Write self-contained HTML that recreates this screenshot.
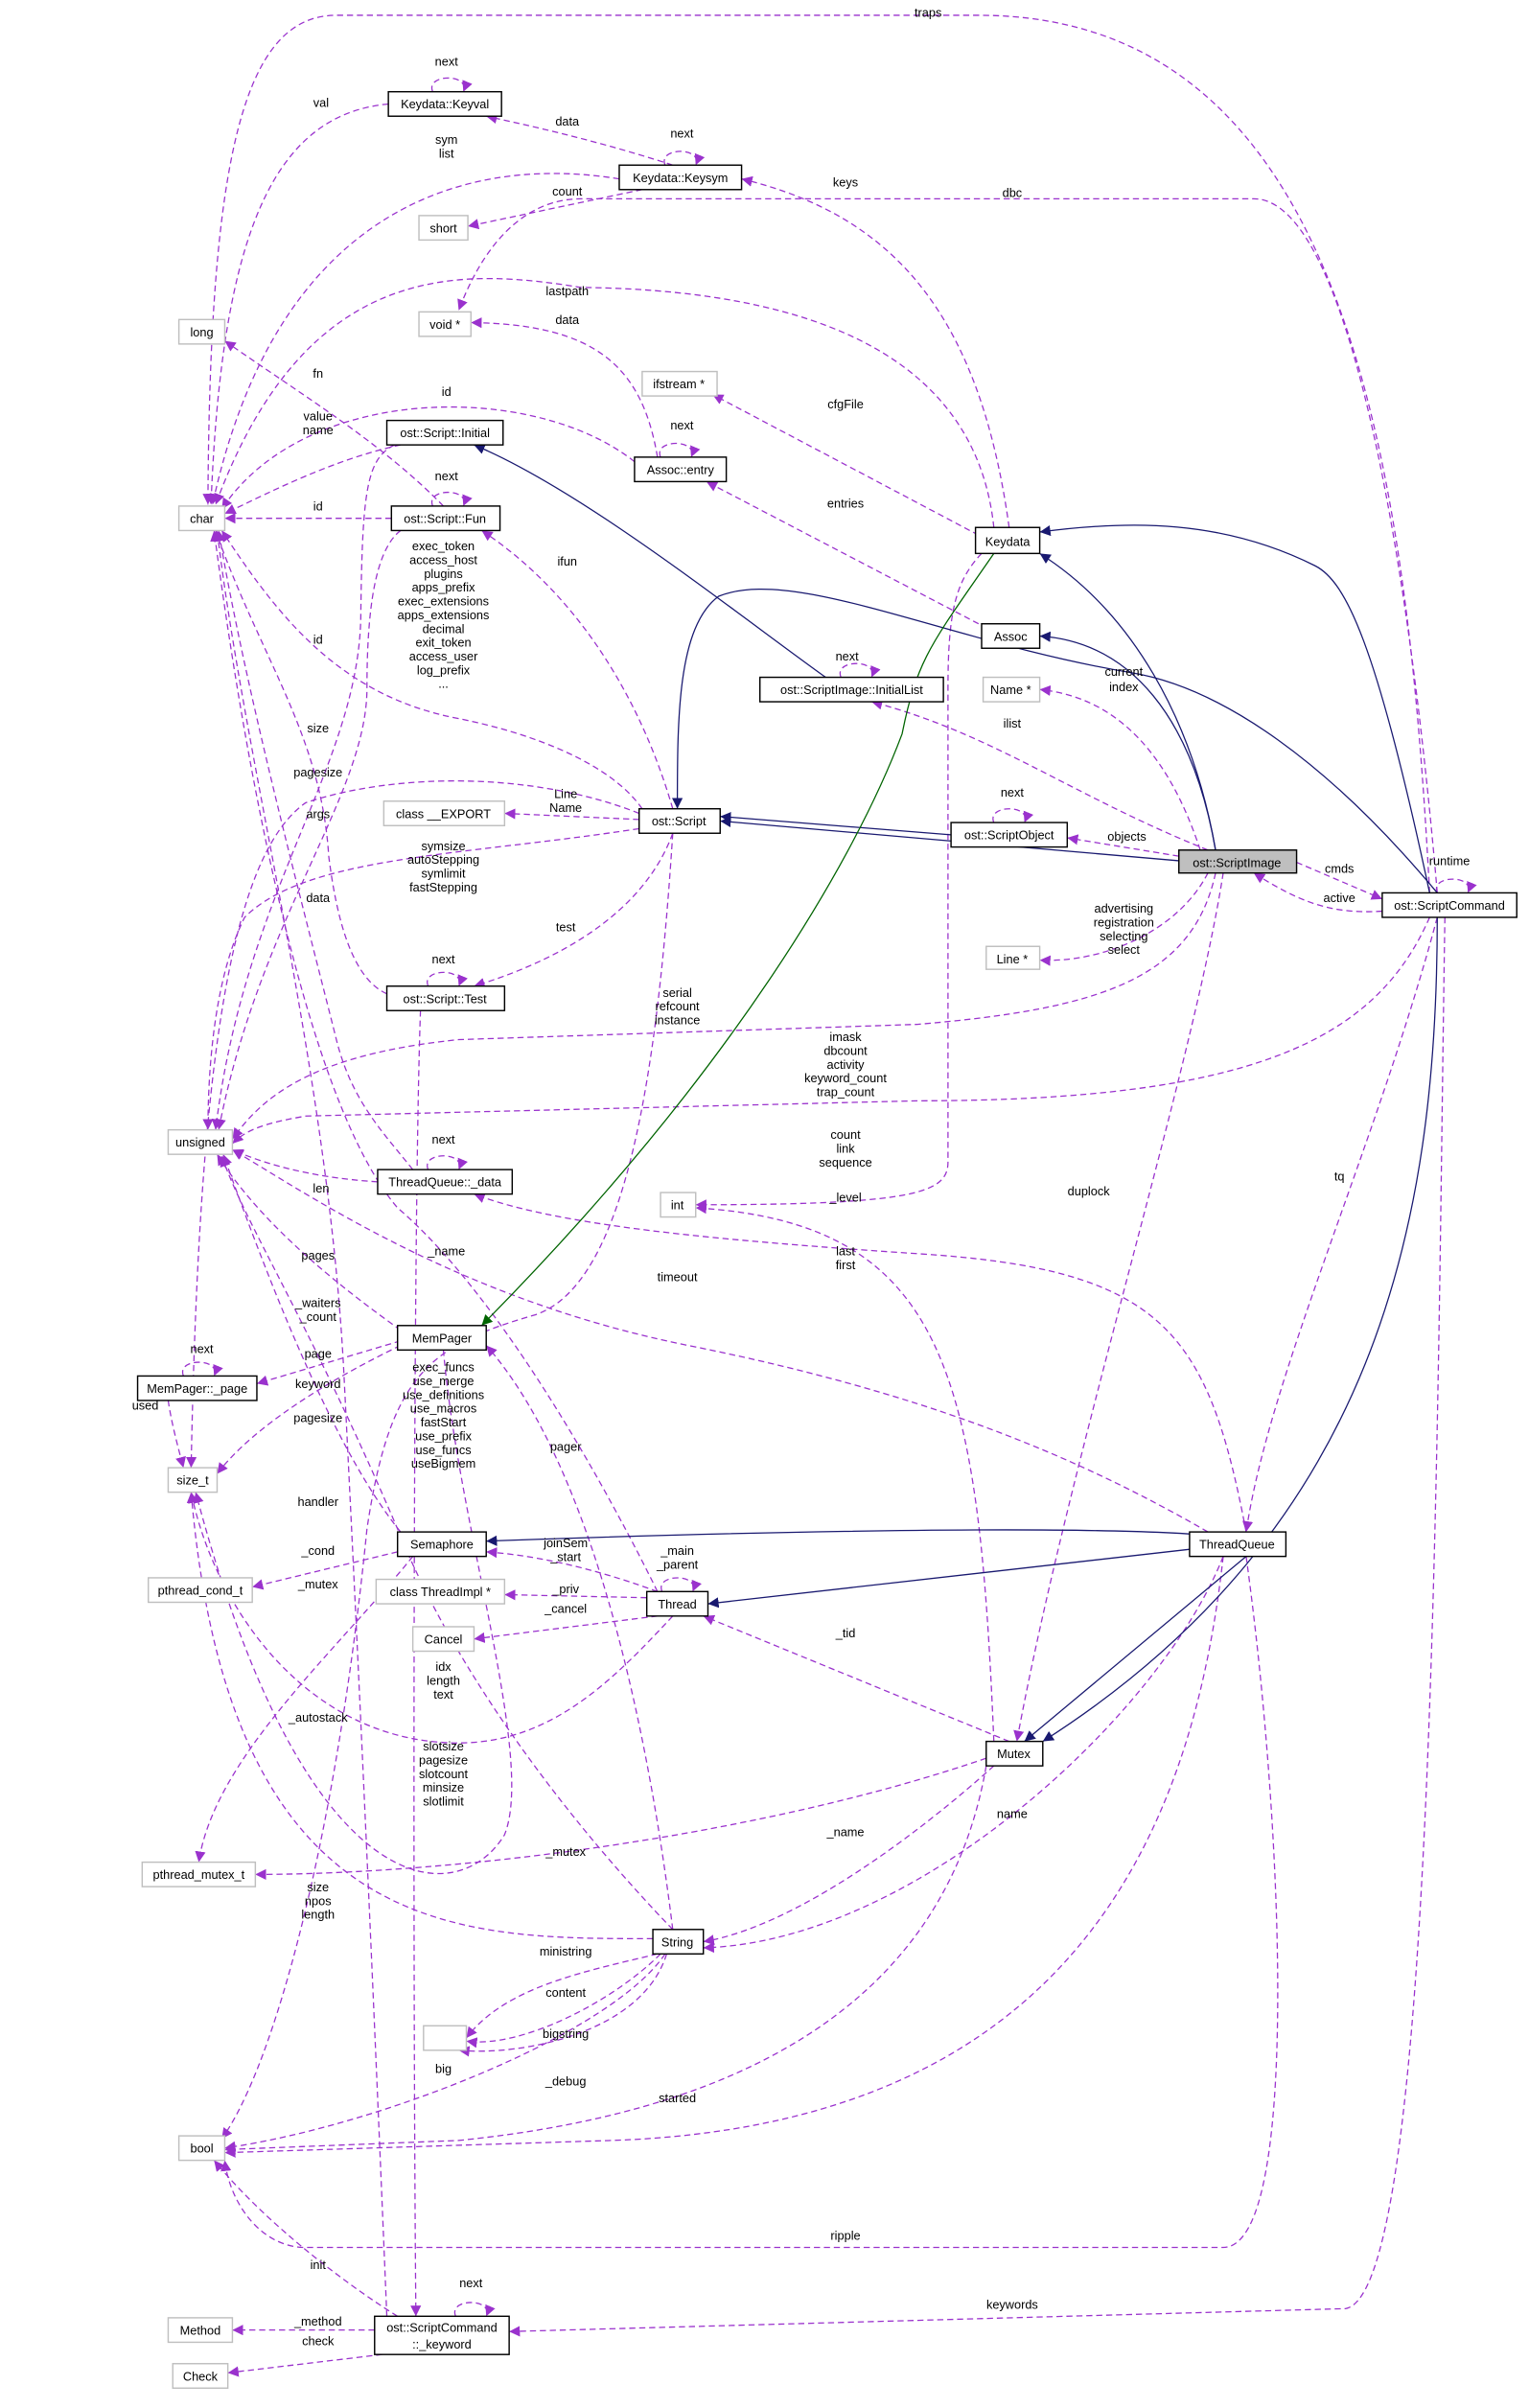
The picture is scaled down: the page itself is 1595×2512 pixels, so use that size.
<!DOCTYPE html>
<html><head><meta charset="utf-8"><style>
html,body{margin:0;padding:0;background:#fff;}
svg{display:block;}
text{font-family:"Liberation Sans",sans-serif;font-size:8px;fill:#000;}
.n{fill:#fff;stroke:#000;stroke-width:0.9;}
.g{fill:#fff;stroke:#bfbfbf;stroke-width:0.9;}
.p{fill:none;stroke:#9a32cd;stroke-width:0.8;stroke-dasharray:4,2.5;}
.b{fill:none;stroke:#191970;stroke-width:0.8;}
.gr{fill:none;stroke:#006400;stroke-width:0.8;}
</style></head><body>
<svg width="1595" height="2512" viewBox="0 0 1000 1575" preserveAspectRatio="none" xmlns="http://www.w3.org/2000/svg">
<defs>
<marker id="ap" viewBox="0 0 10 10" refX="10" refY="5" markerWidth="7" markerHeight="7" orient="auto" markerUnits="userSpaceOnUse"><path d="M0,0L10,5L0,10z" fill="#9a32cd"/></marker>
<marker id="ab" viewBox="0 0 10 10" refX="10" refY="5" markerWidth="7" markerHeight="7" orient="auto" markerUnits="userSpaceOnUse"><path d="M0,0L10,5L0,10z" fill="#191970"/></marker>
<marker id="ag" viewBox="0 0 10 10" refX="10" refY="5" markerWidth="7" markerHeight="7" orient="auto" markerUnits="userSpaceOnUse"><path d="M0,0L10,5L0,10z" fill="#006400"/></marker>
</defs>
<g marker-end="url(#ap)">
<path class="p" d="M935,584 C920,300 880,10 640,10 L220,10 C160,10 137,100 136,330"/>
<path class="p" d="M254,68 C180,75 145,150 138,330"/>
<path class="p" d="M440,108 C400,95 360,85 318,76"/>
<path class="p" d="M405,117 C300,100 180,140 139,330"/>
<path class="p" d="M420,124 L306,148"/>
<path class="p" d="M660,345 C640,200 580,140 485,117"/>
<path class="p" d="M940,584 C920,350 880,130 820,130 L380,130 C350,130 320,150 300,203"/>
<path class="p" d="M650,345 C640,250 560,190 380,188 C300,175 200,170 141,330"/>
<path class="p" d="M430,299 C420,240 390,212 308,211"/>
<path class="p" d="M640,350 L466,258"/>
<path class="p" d="M640,408 L462,315"/>
<path class="p" d="M415,302 C350,250 200,250 145,333"/>
<path class="p" d="M290,331 C250,290 200,260 147,223"/>
<path class="p" d="M262,291 C220,300 180,320 147,336"/>
<path class="p" d="M256,339 L147,339"/>
<path class="p" d="M420,529 C400,500 350,480 300,470 C220,455 180,400 145,347"/>
<path class="p" d="M440,529 C420,460 380,390 315,347"/>
<path class="p" d="M418,536 L330,532"/>
<path class="p" d="M440,545 C420,600 360,630 310,645"/>
<path class="p" d="M418,542 C300,560 200,560 160,600 C140,640 136,700 136,739"/>
<path class="p" d="M418,532 C350,505 260,505 200,525 C150,560 130,700 125,960"/>
<path class="p" d="M771,560 L698,548"/>
<path class="p" d="M785,556 C760,480 720,455 680,451"/>
<path class="p" d="M790,556 C700,520 650,480 570,459"/>
<path class="p" d="M848,564 L904,588"/>
<path class="p" d="M904,596 C870,598 850,590 820,571"/>
<path class="p" d="M790,571 C770,610 720,630 680,628"/>
<path class="p" d="M795,571 C780,640 720,660 600,670 L300,680 C200,690 170,720 152,745"/>
<path class="p" d="M935,600 C900,680 820,720 600,720 L200,730 C170,735 160,740 152,748"/>
<path class="p" d="M642,362 C625,380 620,400 620,450 L620,760 C620,780 600,788 455,788"/>
<path class="p" d="M800,571 C780,700 700,950 665,1139"/>
<path class="p" d="M940,600 C900,750 830,900 815,1002"/>
<path class="p" d="M247,773 C200,770 170,760 152,752"/>
<path class="p" d="M270,765 C250,740 230,720 220,680 C200,600 160,450 143,347"/>
<path class="p" d="M815,1002 C790,870 760,830 600,820 C450,810 360,800 310,781"/>
<path class="p" d="M790,1002 C700,950 600,910 450,880 C300,850 200,780 152,752"/>
<path class="p" d="M262,870 C220,840 170,800 142,755"/>
<path class="p" d="M430,1041 C400,980 330,850 260,790 C200,720 160,500 140,347"/>
<path class="p" d="M262,1002 C220,950 180,850 146,755"/>
<path class="p" d="M262,877 L168,905"/>
<path class="p" d="M110,916 C112,930 116,945 120,960"/>
<path class="p" d="M262,880 C200,910 160,940 142,964"/>
<path class="p" d="M260,1015 L165,1038"/>
<path class="p" d="M270,1018 C220,1080 140,1150 130,1218"/>
<path class="p" d="M430,1041 C400,1030 360,1018 318,1015"/>
<path class="p" d="M423,1045 L330,1043"/>
<path class="p" d="M430,1057 L310,1072"/>
<path class="p" d="M440,1057 C400,1100 360,1140 300,1140 C200,1140 140,1050 125,976"/>
<path class="p" d="M660,1139 L460,1057"/>
<path class="p" d="M650,1139 C640,900 620,800 455,790"/>
<path class="p" d="M440,1262 C380,1200 300,1100 260,1000 C200,860 160,800 145,756"/>
<path class="p" d="M645,1150 C500,1200 300,1226 167,1226"/>
<path class="p" d="M650,1155 C600,1200 520,1260 460,1270"/>
<path class="p" d="M800,1018 C760,1120 600,1270 460,1274"/>
<path class="p" d="M427,1268 C300,1268 150,1270 125,976"/>
<path class="p" d="M440,1262 C420,1100 380,950 318,880"/>
<path class="p" d="M430,1278 C380,1290 330,1300 305,1333"/>
<path class="p" d="M432,1278 C400,1310 340,1340 305,1335"/>
<path class="p" d="M436,1278 C420,1330 340,1345 300,1341"/>
<path class="p" d="M435,1278 C400,1330 250,1390 147,1405"/>
<path class="p" d="M645,1155 C620,1300 500,1380 300,1400 L147,1406"/>
<path class="p" d="M800,1018 C780,1200 700,1390 400,1400 L147,1408"/>
<path class="p" d="M815,1018 C840,1200 850,1470 800,1470 L200,1470 C170,1470 150,1440 147,1413"/>
<path class="p" d="M945,600 C940,900 940,1500 880,1510 L333,1525"/>
<path class="p" d="M260,1515 C220,1490 170,1450 140,1413"/>
<path class="p" d="M245,1524 L152,1524"/>
<path class="p" d="M250,1540 L149,1552"/>
<path class="p" d="M253,1515 C240,1200 230,1000 225,900 C215,700 160,500 142,347"/>
<path class="p" d="M253,650 C230,640 220,600 215,560 C210,480 170,430 141,347"/>
<path class="p" d="M258,291 C240,300 237,320 236,400 C236,500 160,580 141,739"/>
<path class="p" d="M262,347 C245,360 240,400 240,450 C240,520 170,600 143,739"/>
<path class="p" d="M275,661 C270,800 270,1300 272,1515"/>
<path class="p" d="M440,545 C430,700 410,840 350,860 C280,880 255,900 240,1000 C220,1200 180,1350 145,1399"/>
<path class="p" d="M290,883 C300,1000 350,1150 330,1200 C300,1250 200,1250 128,976"/>
<!-- self loops -->
<path class="p" d="M283,60 C278,48 308,48 303,60"/>
<path class="p" d="M435,108 C430,96 460,96 455,108"/>
<path class="p" d="M432,299 C427,287 457,287 452,299"/>
<path class="p" d="M283,331 C278,319 308,319 303,331"/>
<path class="p" d="M550,443 C545,431 575,431 570,443"/>
<path class="p" d="M650,538 C645,526 675,526 670,538"/>
<path class="p" d="M940,584 C935,572 965,572 960,584"/>
<path class="p" d="M280,645 C275,633 305,633 300,645"/>
<path class="p" d="M280,765 C275,753 305,753 300,765"/>
<path class="p" d="M120,900 C115,888 145,888 140,900"/>
<path class="p" d="M433,1041 C428,1029 458,1029 453,1041"/>
<path class="p" d="M298,1515 C293,1503 323,1503 318,1515"/>
</g>
<g marker-end="url(#ab)">
<path class="b" d="M540,443 C480,400 380,320 310,291"/>
<path class="b" d="M940,584 C870,500 800,450 740,440 C620,420 520,370 470,390 C443,410 443,470 443,529"/>
<path class="b" d="M795,556 C780,470 740,400 680,362"/>
<path class="b" d="M795,556 C780,470 740,420 680,416"/>
<path class="b" d="M935,584 C900,420 880,380 860,370 C800,340 740,340 680,348"/>
<path class="b" d="M771,563 L471,537"/>
<path class="b" d="M622,546 L471,534"/>
<path class="b" d="M800,1005 C700,995 400,1005 318,1008"/>
<path class="b" d="M790,1012 L463,1049"/>
<path class="b" d="M815,1018 L670,1139"/>
<path class="b" d="M940,600 C940,800 900,1000 682,1139"/>
</g>
<path class="gr" marker-end="url(#ag)" d="M650,362 C610,420 600,430 590,480 C560,560 480,700 315,867"/>
<!-- nodes -->
<g>
<rect class="n" x="254" y="60" width="74" height="16"/><text x="291" y="71" text-anchor="middle">Keydata::Keyval</text>
<rect class="n" x="405" y="108" width="80" height="16"/><text x="445" y="119" text-anchor="middle">Keydata::Keysym</text>
<rect class="g" x="274" y="141" width="32" height="16"/><text x="290" y="152" text-anchor="middle">short</text>
<rect class="g" x="274" y="204" width="34" height="16"/><text x="291" y="215" text-anchor="middle">void *</text>
<rect class="g" x="117" y="209" width="30" height="16"/><text x="132" y="220" text-anchor="middle">long</text>
<rect class="g" x="420" y="243" width="49" height="16"/><text x="444" y="254" text-anchor="middle">ifstream *</text>
<rect class="n" x="253" y="275" width="76" height="16"/><text x="291" y="286" text-anchor="middle">ost::Script::Initial</text>
<rect class="n" x="415" y="299" width="60" height="16"/><text x="445" y="310" text-anchor="middle">Assoc::entry</text>
<rect class="g" x="117" y="331" width="30" height="16"/><text x="132" y="342" text-anchor="middle">char</text>
<rect class="n" x="256" y="331" width="71" height="16"/><text x="291" y="342" text-anchor="middle">ost::Script::Fun</text>
<rect class="n" x="638" y="345" width="42" height="17"/><text x="659" y="357" text-anchor="middle">Keydata</text>
<rect class="n" x="642" y="408" width="38" height="16"/><text x="661" y="419" text-anchor="middle">Assoc</text>
<rect class="g" x="643" y="443" width="37" height="16"/><text x="661" y="454" text-anchor="middle">Name *</text>
<rect class="n" x="497" y="443" width="120" height="16"/><text x="557" y="454" text-anchor="middle">ost::ScriptImage::InitialList</text>
<rect class="g" x="251" y="524" width="79" height="16"/><text x="290" y="535" text-anchor="middle">class __EXPORT</text>
<rect class="n" x="418" y="529" width="53" height="16"/><text x="444" y="540" text-anchor="middle">ost::Script</text>
<rect class="n" x="622" y="538" width="76" height="16"/><text x="660" y="549" text-anchor="middle">ost::ScriptObject</text>
<rect x="771" y="556" width="77" height="15" fill="#bfbfbf" stroke="#000" stroke-width="0.9"/><text x="809" y="567" text-anchor="middle">ost::ScriptImage</text>
<rect class="n" x="904" y="584" width="88" height="16"/><text x="948" y="595" text-anchor="middle">ost::ScriptCommand</text>
<rect class="g" x="645" y="619" width="35" height="15"/><text x="662" y="630" text-anchor="middle">Line *</text>
<rect class="n" x="253" y="645" width="77" height="16"/><text x="291" y="656" text-anchor="middle">ost::Script::Test</text>
<rect class="g" x="110" y="739" width="42" height="16"/><text x="131" y="750" text-anchor="middle">unsigned</text>
<rect class="n" x="247" y="765" width="88" height="16"/><text x="291" y="776" text-anchor="middle">ThreadQueue::_data</text>
<rect class="g" x="432" y="780" width="23" height="16"/><text x="443" y="791" text-anchor="middle">int</text>
<rect class="n" x="260" y="867" width="58" height="16"/><text x="289" y="878" text-anchor="middle">MemPager</text>
<rect class="n" x="90" y="900" width="78" height="16"/><text x="129" y="911" text-anchor="middle">MemPager::_page</text>
<rect class="g" x="110" y="960" width="32" height="16"/><text x="126" y="971" text-anchor="middle">size_t</text>
<rect class="n" x="260" y="1002" width="58" height="16"/><text x="289" y="1013" text-anchor="middle">Semaphore</text>
<rect class="n" x="778" y="1002" width="63" height="16"/><text x="809" y="1013" text-anchor="middle">ThreadQueue</text>
<rect class="g" x="97" y="1032" width="68" height="16"/><text x="131" y="1043" text-anchor="middle">pthread_cond_t</text>
<rect class="g" x="246" y="1033" width="84" height="16"/><text x="288" y="1044" text-anchor="middle">class ThreadImpl *</text>
<rect class="n" x="423" y="1041" width="40" height="16"/><text x="443" y="1052" text-anchor="middle">Thread</text>
<rect class="g" x="270" y="1064" width="40" height="16"/><text x="290" y="1075" text-anchor="middle">Cancel</text>
<rect class="n" x="645" y="1139" width="37" height="16"/><text x="663" y="1150" text-anchor="middle">Mutex</text>
<rect class="g" x="93" y="1218" width="74" height="16"/><text x="130" y="1229" text-anchor="middle">pthread_mutex_t</text>
<rect class="n" x="427" y="1262" width="33" height="16"/><text x="443" y="1273" text-anchor="middle">String</text>
<rect class="g" x="277" y="1325" width="28" height="16"/>
<rect class="g" x="117" y="1397" width="30" height="16"/><text x="132" y="1408" text-anchor="middle">bool</text>
<rect class="g" x="110" y="1516" width="42" height="16"/><text x="131" y="1527" text-anchor="middle">Method</text>
<rect class="n" x="245" y="1515" width="88" height="25"/><text x="289" y="1525" text-anchor="middle">ost::ScriptCommand</text><text x="289" y="1536" text-anchor="middle">::_keyword</text>
<rect class="g" x="113" y="1546" width="36" height="16"/><text x="131" y="1557" text-anchor="middle">Check</text>
</g>
<!-- labels -->
<g text-anchor="middle">
<text x="607" y="11">traps</text>
<text x="292" y="43">next</text><text x="446" y="90">next</text>
<text x="210" y="70">val</text><text x="371" y="82">data</text>
<text x="292" y="94">sym</text><text x="292" y="103">list</text>
<text x="371" y="128">count</text><text x="553" y="122">keys</text>
<text x="662" y="129">dbc</text><text x="371" y="193">lastpath</text>
<text x="371" y="212">data</text><text x="553" y="267">cfgFile</text>
<text x="446" y="281">next</text><text x="553" y="332">entries</text>
<text x="208" y="247">fn</text><text x="292" y="259">id</text>
<text x="208" y="275">value</text><text x="208" y="284">name</text>
<text x="208" y="334">id</text><text x="292" y="314">next</text>
<text x="371" y="370">ifun</text>
<text x="290" y="360">exec_token</text><text x="290" y="369">access_host</text><text x="290" y="378">plugins</text><text x="290" y="387">apps_prefix</text><text x="290" y="396">exec_extensions</text><text x="290" y="405">apps_extensions</text><text x="290" y="414">decimal</text><text x="290" y="423">exit_token</text><text x="290" y="432">access_user</text><text x="290" y="441">log_prefix</text><text x="290" y="450">...</text>
<text x="208" y="421">id</text><text x="208" y="479">size</text><text x="208" y="508">pagesize</text><text x="208" y="535">args</text>
<text x="554" y="432">next</text><text x="735" y="442">current</text><text x="735" y="452">index</text>
<text x="662" y="476">ilist</text><text x="662" y="521">next</text>
<text x="370" y="522">Line</text><text x="370" y="531">Name</text>
<text x="737" y="550">objects</text><text x="876" y="571">cmds</text><text x="876" y="590">active</text><text x="948" y="566">runtime</text>
<text x="290" y="556">symsize</text><text x="290" y="565">autoStepping</text><text x="290" y="574">symlimit</text><text x="290" y="583">fastStepping</text>
<text x="735" y="597">advertising</text><text x="735" y="606">registration</text><text x="735" y="615">selecting</text><text x="735" y="624">select</text>
<text x="370" y="609">test</text><text x="290" y="630">next</text><text x="208" y="590">data</text>
<text x="443" y="652">serial</text><text x="443" y="661">refcount</text><text x="443" y="670">instance</text>
<text x="553" y="681">imask</text><text x="553" y="690">dbcount</text><text x="553" y="699">activity</text><text x="553" y="708">keyword_count</text><text x="553" y="717">trap_count</text>
<text x="290" y="748">next</text><text x="210" y="780">len</text>
<text x="553" y="745">count</text><text x="553" y="754">link</text><text x="553" y="763">sequence</text>
<text x="712" y="782">duplock</text><text x="876" y="772">tq</text><text x="553" y="786">_level</text>
<text x="553" y="821">last</text><text x="553" y="830">first</text>
<text x="292" y="821">_name</text><text x="443" y="838">timeout</text><text x="208" y="824">pages</text>
<text x="208" y="855">_waiters</text><text x="208" y="864">_count</text>
<text x="132" y="885">next</text><text x="208" y="888">page</text><text x="208" y="908">keyword</text><text x="208" y="930">pagesize</text><text x="95" y="922">used</text>
<text x="290" y="897">exec_funcs</text><text x="290" y="906">use_merge</text><text x="290" y="915">use_definitions</text><text x="290" y="924">use_macros</text><text x="290" y="933">fastStart</text><text x="290" y="942">use_prefix</text><text x="290" y="951">use_funcs</text><text x="290" y="960">useBigmem</text>
<text x="370" y="949">pager</text><text x="208" y="985">handler</text>
<text x="370" y="1012">joinSem</text><text x="370" y="1021">_start</text>
<text x="443" y="1017">_main</text><text x="443" y="1026">_parent</text>
<text x="208" y="1017">_cond</text><text x="208" y="1039">_mutex</text>
<text x="370" y="1042">_priv</text><text x="370" y="1055">_cancel</text><text x="553" y="1071">_tid</text>
<text x="290" y="1093">idx</text><text x="290" y="1102">length</text><text x="290" y="1111">text</text>
<text x="208" y="1126">_autostack</text>
<text x="290" y="1145">slotsize</text><text x="290" y="1154">pagesize</text><text x="290" y="1163">slotcount</text><text x="290" y="1172">minsize</text><text x="290" y="1181">slotlimit</text>
<text x="662" y="1189">name</text><text x="553" y="1201">_name</text><text x="370" y="1214">_mutex</text>
<text x="208" y="1237">size</text><text x="208" y="1246">npos</text><text x="208" y="1255">length</text>
<text x="370" y="1279">ministring</text><text x="370" y="1306">content</text><text x="370" y="1333">bigstring</text>
<text x="290" y="1356">big</text><text x="370" y="1364">_debug</text><text x="443" y="1375">started</text>
<text x="553" y="1465">ripple</text><text x="208" y="1484">init</text><text x="308" y="1496">next</text>
<text x="662" y="1510">keywords</text><text x="208" y="1521">_method</text><text x="208" y="1534">check</text>
</g>
</svg>
</body></html>
